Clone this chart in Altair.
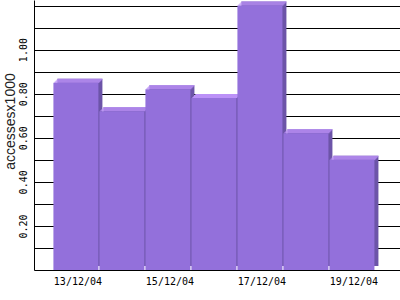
import altair as alt
import pandas as pd

days = ["13/12/04", "14/12/04", "15/12/04", "16/12/04", "17/12/04", "18/12/04", "19/12/04"]
accesses = [0.85, 0.72, 0.82, 0.78, 1.20, 0.62, 0.50]
shown_days = ["13/12/04", "15/12/04", "17/12/04", "19/12/04"]
grid_values = [0.1, 0.2, 0.3, 0.4, 0.5, 0.6, 0.7, 0.8, 0.9, 1.0, 1.1, 1.2]

df = pd.DataFrame({"day": days, "value": accesses})

FRONT = "#9370db"
TOP = "#bb91f7"
SIDE = "#6c54a8"
BW = 45

x_enc = alt.X(
    "day:N",
    sort=days,
    scale=alt.Scale(paddingInner=0, paddingOuter=0.478, align=0.43),
    axis=alt.Axis(
        values=shown_days, title=None, ticks=False, labelAngle=0,
        labelFont="DejaVu Sans Mono", labelFontSize=10, labelColor="black",
        labelPadding=6, labelBaseline="top", labelOffset=2,
        domainColor="black", domainWidth=1, grid=False,
    ),
)
y_scale = alt.Scale(domain=[0, 1.225], nice=False)
y_axis = alt.Axis(
    values=grid_values, title="accessesx1000", ticks=False,
    labelExpr="(round(datum.value*10)%2==0 && datum.value<1.1) ? format(datum.value,'.2f') : ''",
    labelOverlap=False,
    labelAngle=270, labelAlign="center", labelBaseline="alphabetic",
    labelFont="DejaVu Sans Mono", labelFontSize=10, labelColor="black",
    labelPadding=8,
    titleFont="Liberation Sans", titleFontSize=14, titleFontWeight="normal",
    titleColor="#222222", titleAngle=270, titleAlign="center",
    titleBaseline="alphabetic", titleX=-20, titleY=121,
    domainColor="black", domainWidth=1,
    grid=True, gridColor="black", gridOpacity=1, gridWidth=1,
)

y_enc = alt.Y("value:Q", scale=y_scale, axis=y_axis)

base = alt.Chart(df)

side = base.mark_bar(width=BW, color=SIDE, xOffset=4, yOffset=-4).encode(
    x=x_enc, y=y_enc
)

layers = [side]
for k in range(1, 5):
    row = base.mark_bar(width=BW, color=TOP, xOffset=k, yOffset=-k, y2Offset=-(k - 1)).encode(
        x=x_enc, y=y_enc, y2=alt.Y2("value")
    )
    layers.append(row)

front = base.mark_bar(width=BW, color=FRONT).encode(x=x_enc, y=y_enc)
layers.append(front)

chart = alt.layer(*layers).properties(
    width=366, height=270,
    autosize=alt.AutoSizeParams(type="none"),
    padding={"left": 34, "top": 0, "right": 0, "bottom": 30},
    background="white",
).configure_view(stroke=None)

chart.save("out.html", embed_options={"renderer": "svg", "actions": False})
